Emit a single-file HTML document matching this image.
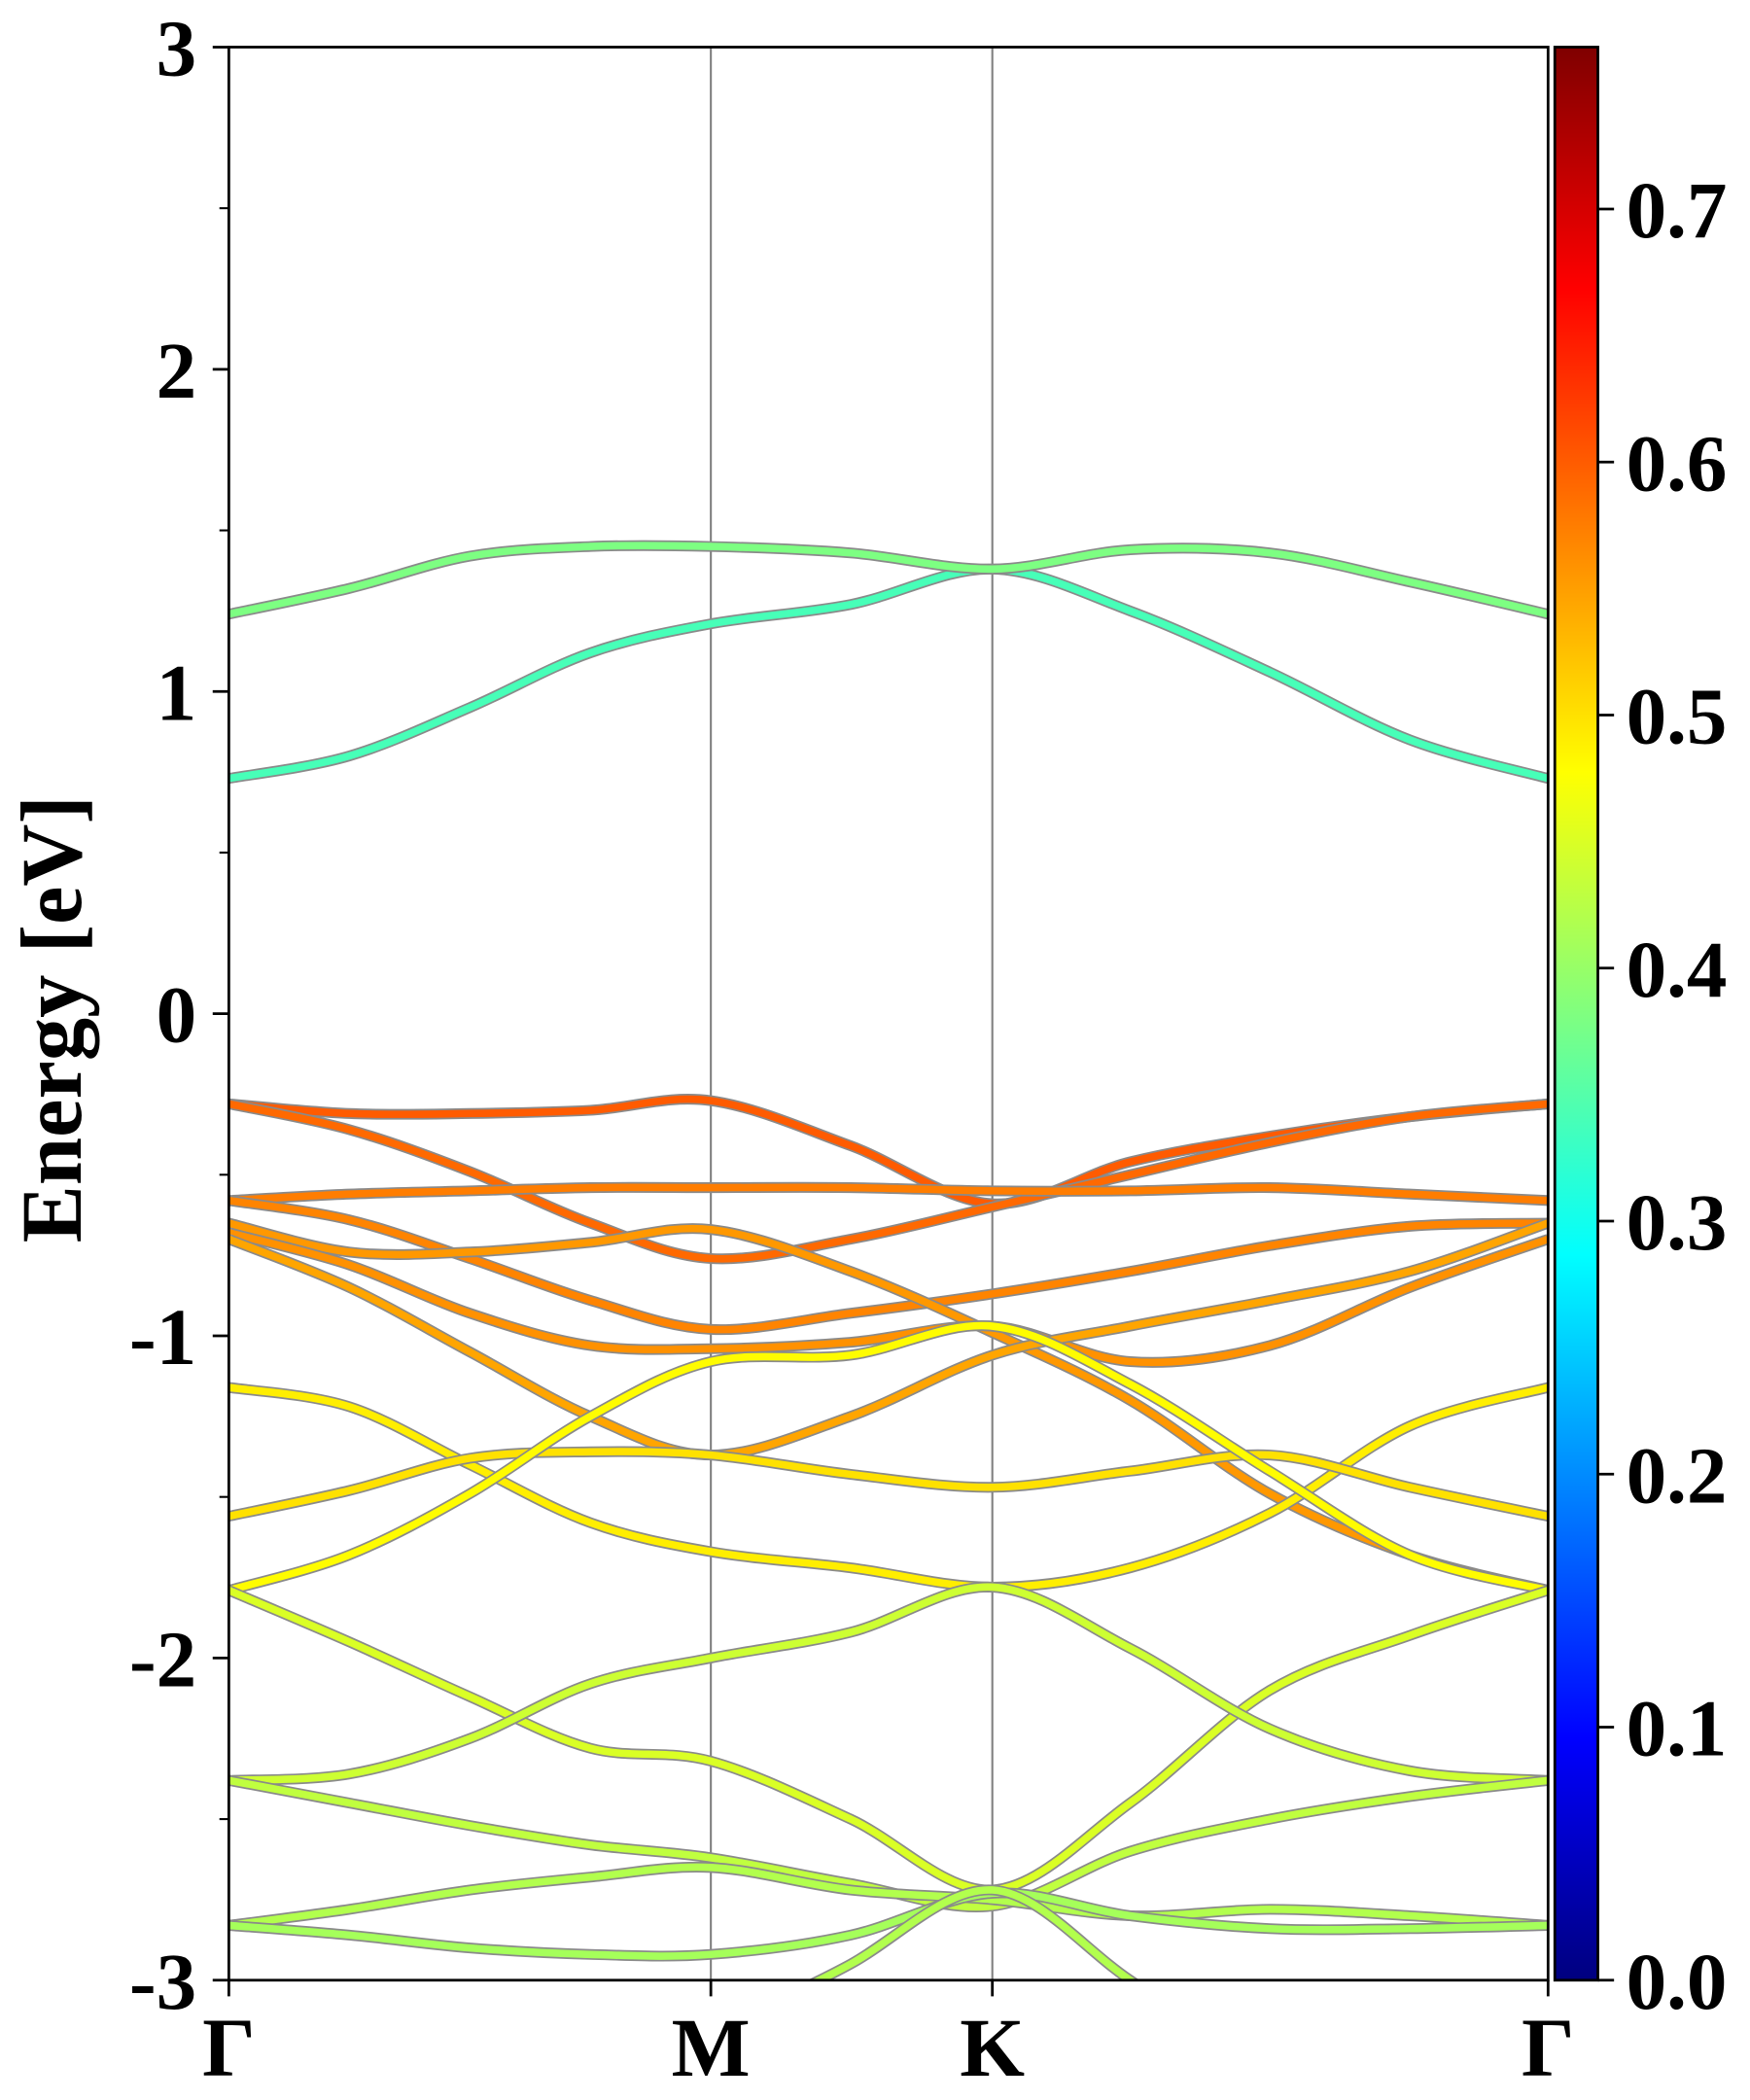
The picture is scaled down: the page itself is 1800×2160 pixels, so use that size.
<!DOCTYPE html>
<html><head><meta charset="utf-8"><style>
html,body{margin:0;padding:0;background:#fff;}
svg{display:block;}
text{font-family:"Liberation Serif",serif;font-weight:bold;fill:#000;}
</style></head><body>
<svg id="chart" width="1800" height="2160" viewBox="0 0 1300 1560" xmlns="http://www.w3.org/2000/svg">
<defs>
<linearGradient id="jet" x1="0" y1="1" x2="0" y2="0">
<stop offset="0" stop-color="#00007f"/><stop offset="0.125" stop-color="#0000ff"/><stop offset="0.375" stop-color="#00ffff"/><stop offset="0.625" stop-color="#ffff00"/><stop offset="0.875" stop-color="#ff0000"/><stop offset="1" stop-color="#7f0000"/>
</linearGradient>
<clipPath id="plotclip"><rect x="170" y="35" width="980" height="1436"/></clipPath>
</defs>
<rect x="0" y="0" width="1300" height="1560" fill="#fff"/>
<g id="vlines"></g>
<g id="bands" clip-path="url(#plotclip)"></g>
<rect x="170" y="35" width="980" height="1436" fill="none" stroke="#000" stroke-width="2"/>
<g id="yaxis"></g>
<g id="xaxis"></g>
<text x="38" y="757" font-size="64" text-anchor="middle" transform="rotate(-90 38 757)" dy="22">Energy [eV]</text>
<rect x="1155" y="35" width="32" height="1436" fill="url(#jet)" stroke="#000" stroke-width="2"/>
<g id="cbaxis"></g>
</svg>
<script>
const kPoints = [0, 0.25, 0.5, 0.75, 1.0, 1.29, 1.584, 1.87, 2.16, 2.45, 2.737];
const kLabels = ["Γ", "M", "K", "Γ"];
const kLabelPos = [0, 1.0, 1.584, 2.737];
const yTicks = [-3, -2, -1, 0, 1, 2, 3];
const cbTicks = [0.0, 0.1, 0.2, 0.3, 0.4, 0.5, 0.6, 0.7];
const cbMax = 0.764;
const bandWeights = [0.34, 0.38, 0.60, 0.59, 0.575, 0.57, 0.555, 0.56, 0.545, 0.49, 0.50, 0.48, 0.45, 0.44, 0.43, 0.42, 0.41];
const b0 = [0.73, 0.80, 0.95, 1.12, 1.21, 1.27, 1.38, 1.25, 1.06, 0.85, 0.73];
const b1 = [1.24, 1.32, 1.42, 1.45, 1.45, 1.43, 1.38, 1.44, 1.43, 1.34, 1.24];
const b2 = [-0.28, -0.31, -0.31, -0.30, -0.27, -0.41, -0.59, -0.46, -0.38, -0.32, -0.28];
const b3 = [-0.28, -0.36, -0.49, -0.65, -0.76, -0.70, -0.60, -0.50, -0.40, -0.32, -0.28];
const b4 = [-0.58, -0.56, -0.55, -0.54, -0.54, -0.54, -0.55, -0.55, -0.54, -0.56, -0.58];
const b5 = [-0.58, -0.64, -0.76, -0.89, -0.98, -0.93, -0.87, -0.80, -0.72, -0.66, -0.65];
const b6 = [-0.65, -0.74, -0.74, -0.71, -0.67, -0.80, -0.99, -1.20, -1.49, -1.68, -1.79];
const b7 = [-0.68, -0.78, -0.93, -1.03, -1.04, -1.02, -0.97, -1.08, -1.03, -0.85, -0.70];
const b8 = [-0.70, -0.85, -1.05, -1.25, -1.37, -1.25, -1.06, -0.97, -0.89, -0.80, -0.65];
const b9 = [-1.16, -1.22, -1.40, -1.58, -1.67, -1.72, -1.78, -1.72, -1.55, -1.28, -1.16];
const b10 = [-1.56, -1.48, -1.38, -1.36, -1.37, -1.43, -1.47, -1.42, -1.37, -1.47, -1.56];
const b11 = [-1.79, -1.68, -1.49, -1.25, -1.08, -1.06, -0.97, -1.15, -1.42, -1.68, -1.79];
const b12 = [-1.79, -1.95, -2.12, -2.28, -2.32, -2.50, -2.72, -2.45, -2.10, -1.93, -1.79];
const b13 = [-2.38, -2.36, -2.25, -2.08, -2.00, -1.92, -1.78, -1.97, -2.22, -2.35, -2.38];
const b14 = [-2.38, -2.45, -2.52, -2.58, -2.62, -2.70, -2.77, -2.60, -2.50, -2.43, -2.38];
const b15 = [-2.83, -2.78, -2.72, -2.68, -2.65, -2.72, -2.75, -2.80, -2.78, -2.80, -2.83];
const b16 = [-2.83, -2.86, -2.90, -2.92, -2.92, -2.86, -2.73, -2.80, -2.84, -2.84, -2.83];
const bands = [b0,b1,b2,b3,b4,b5,b6,b7,b8,b9,b10,b11,b12,b13,b14,b15,b16];
const extraK = [0.8, 1.0, 1.29, 1.584, 1.87, 2.16];
const extraE = [-3.6, -3.2, -2.95, -2.72, -3.0, -3.3];

const NS = "http://www.w3.org/2000/svg";
const X0 = 170, X1 = 1150, Y0 = 35, Y1 = 1471;
function xs(k){ return X0 + (k / 2.737) * (X1 - X0); }
function ys(e){ return Y1 - (e + 3) / 6 * (Y1 - Y0); }
function cby(v){ return Y1 - v / cbMax * (Y1 - Y0); }
function jet(v){
  const t = v / cbMax;
  const r = Math.max(0, Math.min(1, 1.5 - Math.abs(4*t - 3)));
  const g = Math.max(0, Math.min(1, 1.5 - Math.abs(4*t - 2)));
  const b = Math.max(0, Math.min(1, 1.5 - Math.abs(4*t - 1)));
  return "rgb(" + Math.round(r*255) + "," + Math.round(g*255) + "," + Math.round(b*255) + ")";
}
function pathFor(ks, es){
  const p = ks.map((k,i)=>[xs(k), ys(es[i])]);
  let d = "M" + p[0][0] + "," + p[0][1];
  for (let i = 0; i < p.length - 1; i++){
    const a = p[i-1] || p[i], b = p[i], c = p[i+1], e = p[i+2] || p[i+1];
    const c1x = b[0] + (c[0]-a[0])/6, c1y = b[1] + (c[1]-a[1])/6;
    const c2x = c[0] - (e[0]-b[0])/6, c2y = c[1] - (e[1]-b[1])/6;
    d += " C" + c1x + "," + c1y + " " + c2x + "," + c2y + " " + c[0] + "," + c[1];
  }
  return d;
}
function el(tag, attrs, parent){
  const n = document.createElementNS(NS, tag);
  for (const k in attrs) n.setAttribute(k, attrs[k]);
  parent.appendChild(n);
  return n;
}
const vl = document.getElementById("vlines");
[kLabelPos[1], kLabelPos[2]].forEach(k=>{
  const l = el("line", {x1: xs(k), x2: xs(k), y1: Y0, y2: Y1, stroke: "#808080", "stroke-width": 1.5}, vl);
  
  
});
const bg = document.getElementById("bands");
function drawBand(ks, es, w, idx){
  const d = pathFor(ks, es);
  const o = el("path", {d: d, fill: "none", stroke: "#8a8a8a", "stroke-width": 8}, bg);
  
  
  const p = el("path", {d: d, fill: "none", stroke: jet(w), "stroke-width": 5.5}, bg);
  
  
}
bands.forEach((b,i)=>drawBand(kPoints, b, bandWeights[i], i));
drawBand(extraK, extraE, 0.42, 17);

const ya = document.getElementById("yaxis");
yTicks.forEach(v=>{
  const y = ys(v);
  const t = el("line", {x1: 158, x2: 170, y1: y, y2: y, stroke: "#000", "stroke-width": 2}, ya);
  
  
  const tx = el("text", {x: 146, y: y + 21, "font-size": 60, "text-anchor": "end"}, ya);
  tx.textContent = String(v);
  
  
});
for (let i = 0; i < yTicks.length - 1; i++){
  const y = ys(yTicks[i] + 0.5);
  const t = el("line", {x1: 163, x2: 170, y1: y, y2: y, stroke: "#000", "stroke-width": 1.5}, ya);
  
  
}
const xa = document.getElementById("xaxis");
kLabels.forEach((lab,i)=>{
  const x = xs(kLabelPos[i]);
  const t = el("line", {x1: x, x2: x, y1: Y1, y2: Y1 + 12, stroke: "#000", "stroke-width": 2}, xa);
  
  
  const tx = el("text", {x: x, y: 1542, "font-size": 62, "text-anchor": "middle"}, xa);
  tx.textContent = lab;
  
  
});
const ca = document.getElementById("cbaxis");
cbTicks.forEach(v=>{
  const y = cby(v);
  const t = el("line", {x1: 1187, x2: 1199, y1: y, y2: y, stroke: "#000", "stroke-width": 2}, ca);
  
  
  const tx = el("text", {x: 1208, y: y + 21, "font-size": 60}, ca);
  tx.textContent = v.toFixed(1);
  
  
});
</script>
</body></html>
